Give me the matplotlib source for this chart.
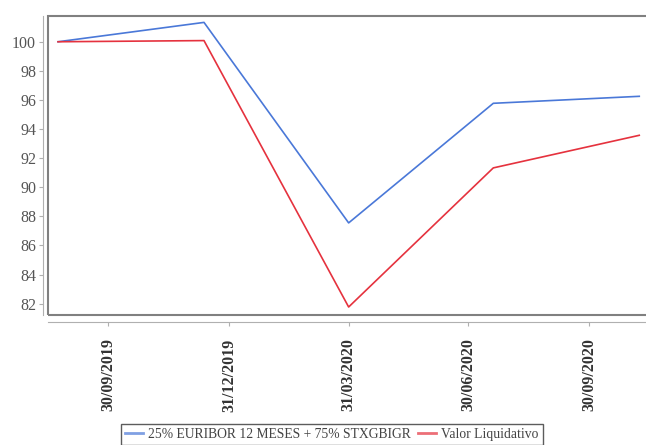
import matplotlib
matplotlib.use("Agg")
import matplotlib.pyplot as plt
from matplotlib.patches import Rectangle
import pandas as pd

# Series values
dates = pd.to_datetime(["2019-08-23", "2019-12-12", "2020-03-31", "2020-07-19", "2020-11-07"])
benchmark = [100.0, 101.33, 87.55, 95.77, 96.25]
fund_nav = [100.0, 100.08, 81.77, 91.33, 93.57]

series_names = ["25% EURIBOR 12 MESES + 75% STXGBIGR", "Valor Liquidativo"]
tick_dates = pd.to_datetime(["2019-09-30", "2019-12-31", "2020-03-31", "2020-06-30", "2020-09-30"])
tick_labels = ["30/09/2019", "31/12/2019", "31/03/2020", "30/06/2020", "30/09/2020"]
y_ticks = [82, 84, 86, 88, 90, 92, 94, 96, 98, 100]

plt.rcParams["font.family"] = ["Liberation Serif", "DejaVu Serif"]
text_color = "#555555"

W, H = 646, 445
fig = plt.figure(figsize=(W / 100, H / 100), dpi=100)
left_px, right_px, top_px, bottom_px = 48, 660, 16, 315
ax = fig.add_axes([left_px / W, 1 - bottom_px / H,
                   (right_px - left_px) / W, (bottom_px - top_px) / H])

ax.plot(dates, benchmark, color="#4a78d8", lw=1.2, label=series_names[0])
ax.plot(dates, fund_nav, color="#e5323e", lw=1.2, label=series_names[1])

# x scale: ~1.315 px per day, anchored on the first tick at x=108px
px_per_day = 1.315
t0 = pd.Timestamp("2019-09-30")
ax.set_xlim(t0 + pd.Timedelta(days=(left_px - 108) / px_per_day),
            t0 + pd.Timedelta(days=(right_px - 108) / px_per_day))
ax.set_ylim(81.22, 101.77)

ax.set_xticks(tick_dates)
ax.set_xticklabels(tick_labels)
ax.set_yticks(y_ticks)
ax.set_yticklabels([str(v) for v in y_ticks])
ax.tick_params(axis="x", labelrotation=90, labelsize=11.5, labelcolor="#333333", pad=9)
ax.tick_params(axis="y", labelsize=11.5, labelcolor=text_color, pad=2)

# Axis lines offset from the plot frame
for s in ["top", "right"]:
    ax.spines[s].set_visible(False)
ax.spines["left"].set_position(("outward", 3.6))
ax.spines["bottom"].set_position(("outward", 4.9))
for s in ["left", "bottom"]:
    ax.spines[s].set_color("#b0b0b0")
    ax.spines[s].set_linewidth(0.8)
ax.tick_params(axis="both", direction="out", length=3, width=0.8, color="#b0b0b0")

# Plot frame
ax.add_patch(Rectangle((0, 0), 1, 1, transform=ax.transAxes, fill=False,
                       edgecolor="#808080", lw=1.5, clip_on=False, zorder=5))

leg = fig.legend(loc="upper center", bbox_to_anchor=(332 / W, 1 - 424 / H),
                 borderaxespad=0, ncol=2, frameon=True, fancybox=False, fontsize=9.8,
                 handlelength=1.3, handletextpad=0.4, columnspacing=0.5,
                 borderpad=0.3, labelcolor="#444444")
leg.get_frame().set_edgecolor("#333333")
leg.get_frame().set_linewidth(1.0)
for line in leg.get_lines():
    line.set_linewidth(2.0)
    line.set_alpha(0.7)

fig.canvas.draw()
for tick in ax.xaxis.get_major_ticks():
    tick.label1.set_fontweight("bold")

fig.savefig("out.png", dpi=100)
